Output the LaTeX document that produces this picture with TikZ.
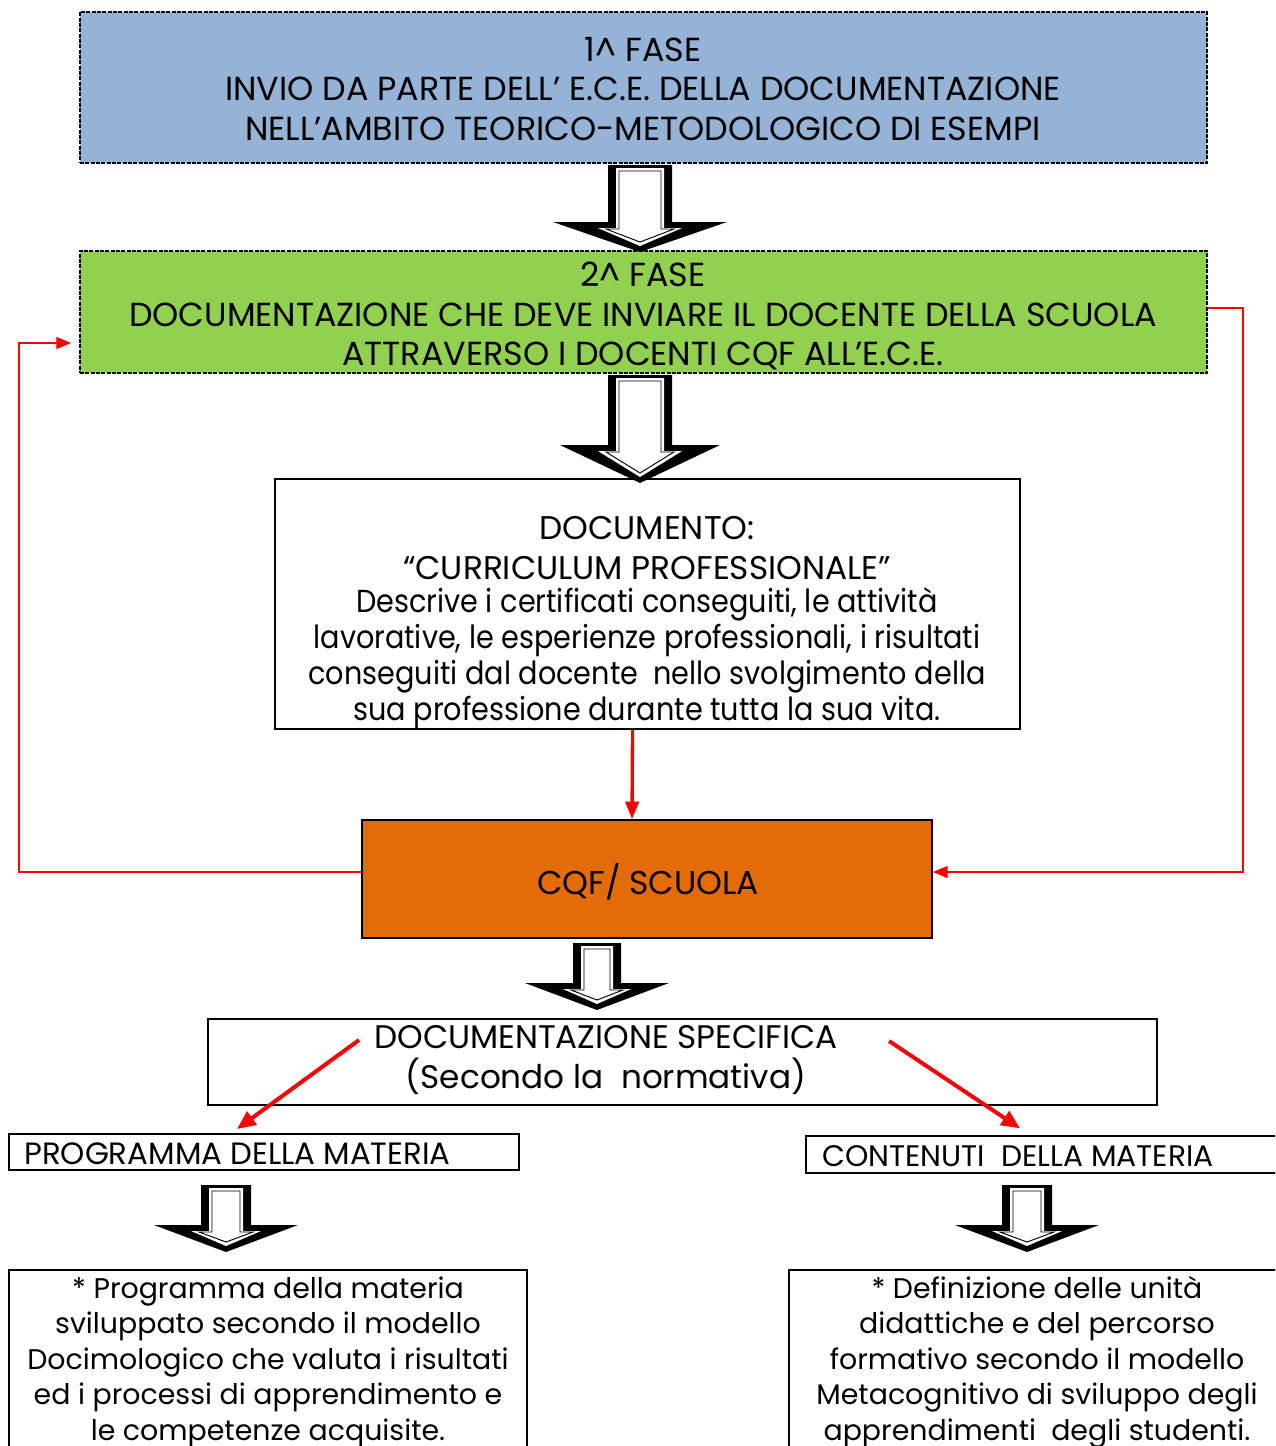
\documentclass[tikz,border=0pt]{standalone}
\usepackage{fontspec}
\setmainfont{Poppins}
\newfontfamily\narrowfont[FakeStretch=0.9]{Poppins}
\usepackage{tikz}
\usetikzlibrary{arrows.meta,positioning,fit,calc}
\definecolor{faseblue}{HTML}{95B3D7}
\definecolor{fasegreen}{HTML}{92D050}
\definecolor{cqforange}{HTML}{E36C09}
\tikzset{%
  fasebox/.style={draw=black,dash pattern=on 3pt off 1pt,line width=1.5pt,inner sep=0pt},
  plainbox/.style={draw=black,line width=1.5pt,inner sep=0pt},
  redlink/.style={draw=red,line width=1.2pt},
  redpush/.style={draw=red,line width=3pt,-{Triangle[length=14pt,width=12pt]}},
}
% cx, top, head, tip, shaft half, head half
\newcommand*{\hollowarrow}[6]{%
  \fill[black] ({#1-#5},#2) -- ({#1+#5},#2) -- ({#1+#5},#3) -- ({#1+#6},#3) -- (#1,#4)
    -- ({#1-#6},#3) -- ({#1-#5},#3) -- cycle;
  \fill[white] ({#1-#5+8},{#2+3}) -- ({#1+#5-8},{#2+3}) -- ({#1+#5-8},{#3+6}) -- ({#1+#5+10},{#3+6})
    -- (#1,{#4-6}) -- ({#1-#5-10},{#3+6}) -- ({#1-#5+8},{#3+6}) -- cycle;
  \draw[black,line width=0.7pt] ({#1-#5+11},{#2+6}) -- ({#1+#5-11},{#2+6}) -- ({#1+#5-11},{#3+7})
    -- ({#1+#5+2},{#3+7}) -- (#1,{#4-10}) -- ({#1-#5-2},{#3+7}) -- ({#1-#5+11},{#3+7}) -- cycle;
}
\begin{document}
\begin{tikzpicture}[x=0.75pt,y=-0.75pt]
  \clip (0,0) rectangle (1275,1446);
  \fill[white] (0,0) rectangle (1275,1446);

  \node[fasebox,fill=faseblue,fit={(80,12) (1207,163)}] (fase1) {};
  \node[fasebox,fill=fasegreen,fit={(80,251) (1207,373)}] (fase2) {};
  \node[plainbox,fit={(275,479) (1020,729)}] (doc) {};
  \node[plainbox,fill=cqforange,fit={(362,820) (932,938)}] (cqf) {};
  \node[plainbox,fit={(208,1019) (1157,1105)}] (spec) {};
  \node[plainbox,fit={(9,1134) (519,1170)}] (prog) {};
  \node[plainbox,fit={(806,1136) (1290,1173)}] (cont) {};
  \node[plainbox,fit={(9,1270) (527,1460)}] (progdesc) {};
  \node[plainbox,fit={(789,1270) (1290,1460)}] (contdesc) {};

  \node[align=center,font=\fontsize{25}{29.6}\selectfont] (fase1txt) at (643,89)
    {1\^{} FASE\\INVIO DA PARTE DELL’ E.C.E. DELLA DOCUMENTAZIONE\\NELL’AMBITO TEORICO-METODOLOGICO DI ESEMPI};
  \node[align=center,font=\fontsize{25}{29.6}\selectfont] (fase2txt) at (643,316)
    {2\^{} FASE\\DOCUMENTAZIONE CHE DEVE INVIARE IL DOCENTE DELLA SCUOLA\\ATTRAVERSO I DOCENTI CQF ALL’E.C.E.};
  \node[align=center,font=\fontsize{24.6}{29.3}\selectfont] (doctxt) at (647,548)
    {DOCUMENTO:\\“CURRICULUM PROFESSIONALE”};
  \node[align=center,font=\narrowfont\fontsize{23.9}{27}\selectfont] (docdesc) at (647,658)
    {Descrive i certificati conseguiti, le attività\\lavorative, le esperienze professionali, i risultati\\
     conseguiti dal docente\ \ nello svolgimento della\\sua professione durante tutta la sua vita.};
  \node[font=\fontsize{24.7}{29}\selectfont] (cqftxt) at (648,882) {CQF/ SCUOLA};
  \node[align=center,font=\fontsize{24.5}{29.3}\selectfont] (spectxt) at (606,1060)
    {DOCUMENTAZIONE SPECIFICA\\(Secondo la\ \ normativa)};
  \node[anchor=west,inner sep=0pt,font=\fontsize{23.1}{26}\selectfont] (progtxt) at (24,1154)
    {PROGRAMMA DELLA MATERIA};
  \node[anchor=west,inner sep=0pt,font=\fontsize{22.3}{26}\selectfont] (conttxt) at (822,1156)
    {CONTENUTI\ \ DELLA MATERIA};
  \node[align=center,font=\fontsize{21.3}{26.6}\selectfont] (progdesctxt) at (268,1362)
    {* Programma della materia\\sviluppato secondo il modello\\Docimologico che valuta i risultati\\
     ed i processi di apprendimento e\\le competenze acquisite.};
  \node[align=center,font=\fontsize{21.3}{26.6}\selectfont] (contdesctxt) at (1037,1362)
    {* Definizione delle unità\\didattiche e del percorso\\formativo secondo il modello\\
     Metacognitivo di sviluppo degli\\apprendimenti\ \ degli studenti.};

  \hollowarrow{640}{165}{222}{252}{32}{87}
  \hollowarrow{640}{375}{445}{483}{32}{80}
  \hollowarrow{597}{943}{983}{1010}{24}{72}
  \hollowarrow{226}{1185}{1225}{1252}{25}{72}
  \hollowarrow{1027}{1185}{1225}{1252}{25}{72}

  \coordinate (lcorner) at (19,343);
  \coordinate (rcorner) at (1243,308);
  \coordinate (specl) at (359,1040);
  \coordinate (specr) at (889,1041);
  \draw[redlink,-{Triangle[length=11pt,width=9pt]}] ([yshift=5.25pt]cqf.west) -| (lcorner)
    -- ([xshift=-6pt]lcorner -| fase2.west);
  \draw[redlink,-{Triangle[length=11pt,width=9pt]}] (rcorner -| fase2.east) -- (rcorner)
    |- ([yshift=5.25pt]cqf.east);
  \draw[red,line width=2.5pt,-{Triangle[length=13pt,width=10pt]}] ([xshift=-11.25pt]doc.south)
    -- ([xshift=-11.25pt]cqf.north);
  \draw[redpush] (specl) -- ([xshift=-20.25pt,yshift=3pt]prog.north);
  \draw[redpush] (specr) -- ([xshift=-21pt,yshift=5pt]cont.north);
\end{tikzpicture}
\end{document}
